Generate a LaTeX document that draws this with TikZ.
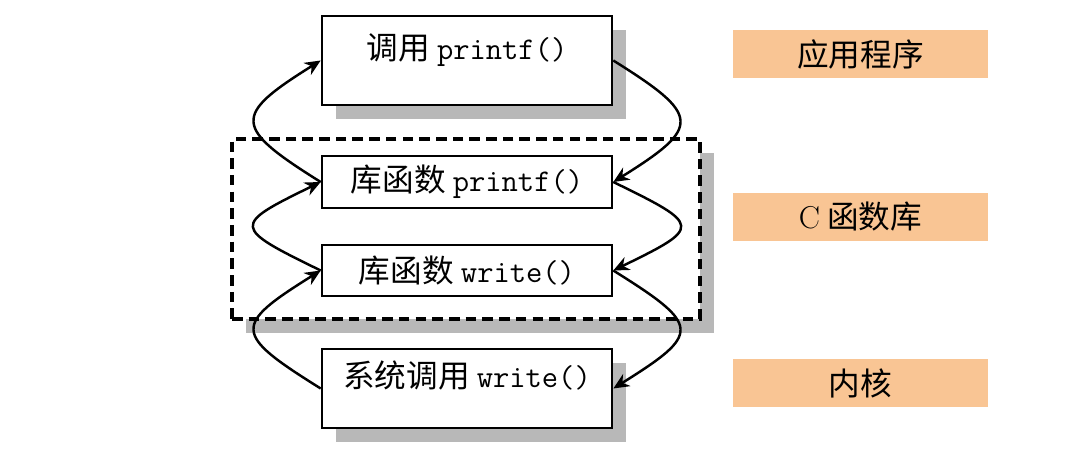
\documentclass[tikz,border=0pt]{standalone}
\usepackage{fontspec}
\newfontfamily\cjkfont{Noto Sans CJK SC}
\usetikzlibrary{arrows.meta,positioning,shadows}
\definecolor{layerorange}{HTML}{F9C594}

\begin{document}
\begin{tikzpicture}[
    font=\fontsize{18}{21}\selectfont\cjkfont,
    boxshadow/.style={drop shadow={shadow xshift=0.28cm, shadow yshift=-0.27cm,
                      fill=black!28, opacity=1}},
    func/.style={draw, line width=1.5pt, fill=white, minimum width=5.8cm, inner sep=4pt},
    tallfunc/.style={func, boxshadow, text height=0.55cm, text depth=0.6cm},
    libframe/.style={draw, dashed, dash pattern=on 6pt off 3.5pt, line width=1.8pt,
                     fill=white, minimum width=9.36cm, minimum height=3.6cm, boxshadow},
    layer/.style={fill=layerorange, minimum width=5.1cm, minimum height=0.96cm},
    flow/.style={->, line width=1.4pt},
    >={Stealth[length=9pt,width=8pt]},
    ]
\useasboundingbox (0,0) rectangle (21.52,9.08);

% C library frame, drawn first so the boxes sit on top
\node[libframe] (clibframe) at (9.32,4.5) {};

\node[tallfunc, minimum height=1.78cm] (callprintf) at (9.34,7.87) {调用 \texttt{printf()}};
\node[func, minimum height=1.04cm] (libprintf) at (9.34,5.44) {库函数 \texttt{printf()}};
\node[func, minimum height=1.02cm] (libwrite) at (9.34,3.67) {库函数 \texttt{write()}};
\node[tallfunc, minimum height=1.58cm] (syswrite) at (9.34,1.31) {系统调用 \texttt{write()}};

% layer tags
\node[layer] (applayer) at (17.21,8.0) {应用程序};
\node[layer] (clib) at (17.21,4.75) {{\rmfamily C} 函数库};
\node[layer] (kernel) at (17.21,1.42) {内核};

% calls going down (right)
\draw[flow] (callprintf.east) to[out=-32, in=32, distance=2.08cm] (libprintf.east);
\draw[flow] (libprintf.east) to[out=-26, in=26, distance=1.98cm] (libwrite.east);
\draw[flow] (libwrite.east) to[out=-32, in=32, distance=2.08cm] (syswrite.east);

% returns going up (left)
\draw[flow] (syswrite.west) to[out=148, in=212, distance=2.08cm] (libwrite.west);
\draw[flow] (libwrite.west) to[out=154, in=206, distance=1.98cm] (libprintf.west);
\draw[flow] (libprintf.west) to[out=148, in=212, distance=2.08cm] (callprintf.west);
\end{tikzpicture}
\end{document}
